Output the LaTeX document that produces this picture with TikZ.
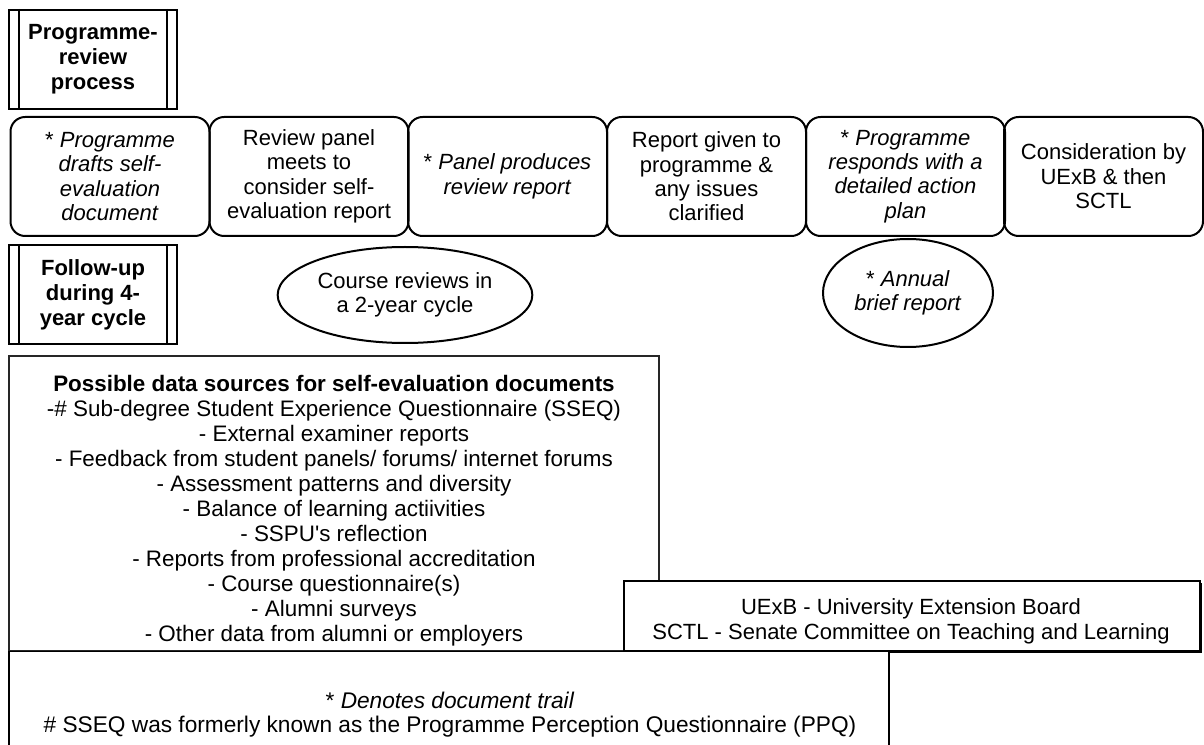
\documentclass[tikz,border=0pt]{standalone}
\usepackage{fontspec}
\setmainfont{Liberation Sans}
\usetikzlibrary{shapes.geometric}
\begin{document}
\begin{tikzpicture}[x=0.75pt,y=-0.75pt,
  every node/.style={font=\fontsize{16.5}{18.3}\selectfont, align=center, inner sep=0pt},
  titlebox/.style={draw, line width=1.5pt, minimum width=126pt, minimum height=74.25pt, font=\fontsize{16.5}{18.75}\selectfont\bfseries},
  stage/.style={draw, line width=1.5pt, rounded corners=11pt, minimum width=149.25pt, minimum height=89.25pt},
  oval/.style={draw, ellipse, line width=1.5pt},
  plainbox/.style={draw, line width=0.9pt, fill=white},
  listtext/.style={font=\fontsize{16.8}{18.75}\selectfont},
  foottext/.style={font=\fontsize{17}{18}\selectfont}
]
\useasboundingbox (0,0) rectangle (1204,745);

% title boxes
\node[titlebox] (t1) at (93,59.5) {Programme-\\review\\process};
\draw[line width=1.5pt] ([xshift=8.25pt]t1.north west) -- ([xshift=8.25pt]t1.south west);
\draw[line width=1.5pt] ([xshift=-8.25pt]t1.north east) -- ([xshift=-8.25pt]t1.south east);

\node[titlebox] (t2) at (93,294.5) {Follow-up\\during 4-\\year cycle};
\draw[line width=1.5pt] ([xshift=8.25pt]t2.north west) -- ([xshift=8.25pt]t2.south west);
\draw[line width=1.5pt] ([xshift=-8.25pt]t2.north east) -- ([xshift=-8.25pt]t2.south east);

% process stages
\node[stage] (s1) at (110,176.5) {*~\textit{Programme}\\\textit{drafts self-}\\\textit{evaluation}\\\textit{document}};
\node[stage] (s2) at (309,176.5) {Review panel\\meets to\\consider self-\\evaluation report};
\node[stage] (s3) at (507.5,176.5) {*~\textit{Panel produces}\\\textit{review report}};
\node[stage] (s4) at (706.5,176.5) {Report given to\\programme \&\\any issues\\clarified};
\node[stage] (s5) at (905.5,176.5) {*~\textit{Programme}\\\textit{responds with a}\\\textit{detailed action}\\\textit{plan}};
\node[stage] (s6) at (1103.5,176.5) {Consideration by\\UExB \& then\\SCTL};

% follow-up ovals
\node[oval, minimum width=191pt, minimum height=72pt] (e1) at (405,295) {Course reviews in\\a 2-year cycle};
\node[oval, minimum width=127.5pt, minimum height=81pt] (e2) at (908,293) {*~\textit{Annual}\\\textit{brief report}};

% data sources box
\node[draw, line width=0.9pt, draw=black!85, minimum width=487.5pt, minimum height=221.25pt] (db) at (334,503.5) {};
\node[listtext] (dt) at (334,511) {\textbf{Possible data sources for self-evaluation documents}\\
-\# Sub-degree Student Experience Questionnaire (SSEQ)\\
- External examiner reports\\
- Feedback from student panels/ forums/ internet forums\\
- Assessment patterns and diversity\\
- Balance of learning actiivities\\
- SSPU\textquotesingle s reflection\\
- Reports from professional accreditation\\
- Course questionnaire(s)\\
- Alumni surveys\\
- Other data from alumni or employers};

% abbreviations box
\fill[black] (625.5,582.5) rectangle (1201.5,652.5);
\node[plainbox, minimum width=432pt, minimum height=52.5pt] (ab) at (912,616) {};
\node (at) at (911,621.5) {UExB - University Extension Board\\SCTL - Senate Committee on Teaching and Learning};

% footnote box
\node[plainbox, minimum width=660pt, minimum height=82pt] (fb) at (449,706) {};
\node[foottext] (ft) at (450,715) {*~\textit{Denotes document trail}\\\# SSEQ was formerly known as the Programme Perception Questionnaire (PPQ)};
\end{tikzpicture}
\end{document}
